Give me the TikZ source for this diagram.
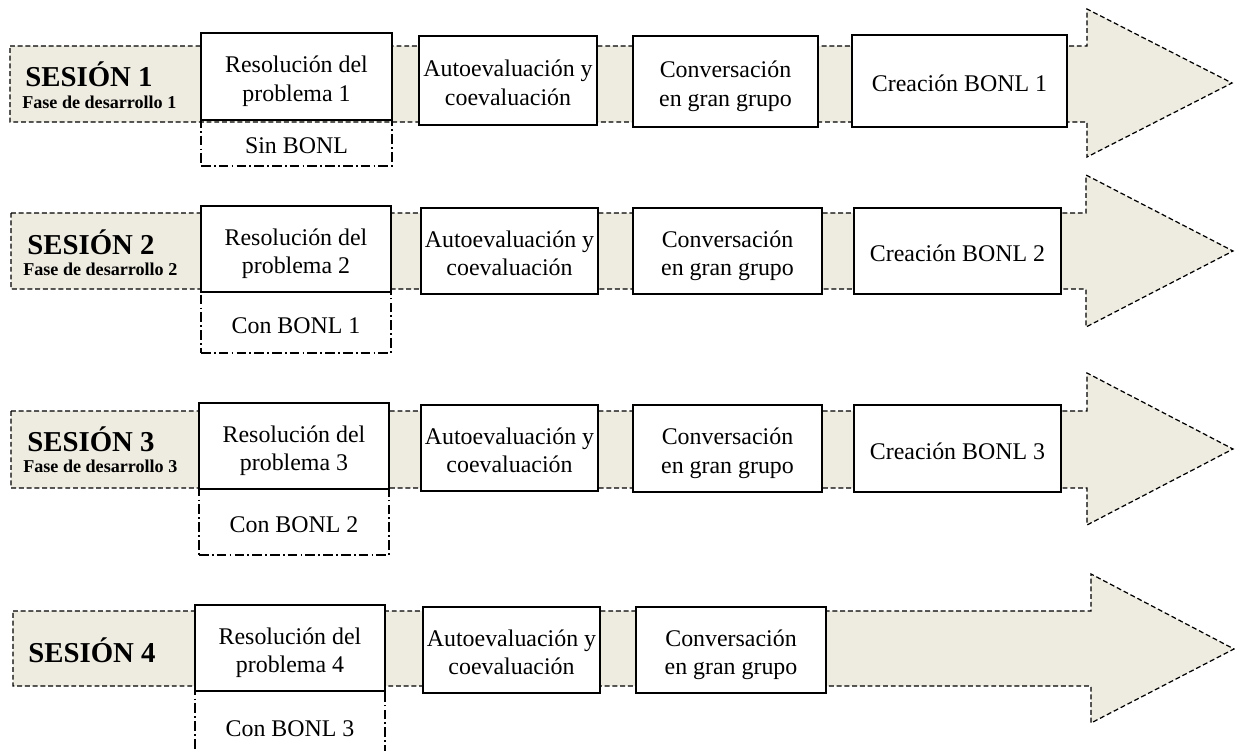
\documentclass[tikz,border=0pt]{standalone}
\usepackage{fontspec}
\setmainfont{Liberation Serif}
\usepackage{xcolor}
\definecolor{fondo}{HTML}{EEECE1}
% two lines, with fixed top and bottom struts
\newcommand{\dos}[2]{\rule{0pt}{15.2pt}#1\\#2\rule[-3.2pt]{0pt}{0pt}}

\begin{document}
\begin{tikzpicture}[x=0.02cm, y=-0.02cm,
    flecha/.style={fill=fondo, draw=black, line width=0.7pt, dash pattern=on 2.8pt off 1.6pt},
    caja/.style={draw=black, fill=white, line width=1.1pt, inner sep=0pt, align=center, font=\fontsize{13.6}{16}\selectfont},
    linea/.style={execute at begin node={\rule{0pt}{15.2pt}}, execute at end node={\rule[-3.2pt]{0pt}{0pt}}},
    bonl/.style={linea, draw=black, line width=0.8pt, inner sep=0pt, dash pattern=on 5.5pt off 1.8pt on 1pt off 1.8pt, font=\fontsize{13.6}{16}\selectfont},
    sesion/.style={anchor=west, inner sep=0pt, font=\bfseries\fontsize{16.4}{18}\selectfont},
    fase/.style={anchor=west, inner sep=0pt, font=\bfseries\fontsize{10.3}{12}\selectfont}]

\clip (0,0) rectangle (1235,751);

% sesion 1
\draw[flecha] (10,46) -- (1087,46) -- (1087,9) -- (1232,83) -- (1087,157) -- (1087,122) -- (10,122) -- cycle;
\node[sesion] (ses1) at (25,74) {SESIÓN 1};
\node[fase] (fase1) at (22,102) {Fase de desarrollo 1};
\node[bonl, minimum width=3.82cm, minimum height=0.92cm] (bonl1) at (296.5,143) {Sin BONL};
\node[caja, minimum width=3.82cm, minimum height=1.74cm] (res1) at (296.5,76.5) {\dos{Resolución del}{problema 1}};
\node[caja, minimum width=3.56cm, minimum height=1.78cm] (auto1) at (508,80.5) {\dos{Autoevaluación y}{coevaluación}};
\node[caja, minimum width=3.70cm, minimum height=1.82cm] (conv1) at (725.5,81.5) {\dos{Conversación}{en gran grupo}};
\node[caja, linea, minimum width=4.30cm, minimum height=1.84cm] (crea1) at (959.5,81) {Creación BONL 1};

% sesion 2
\draw[flecha] (11,213) -- (1086,213) -- (1086,175) -- (1233,251) -- (1086,327) -- (1086,289) -- (11,289) -- cycle;
\node[sesion] (ses2) at (27,242) {SESIÓN 2};
\node[fase] (fase2) at (23,269) {Fase de desarrollo 2};
\node[bonl, minimum width=3.80cm, minimum height=1.22cm] (bonl2) at (296,322.5) {Con BONL 1};
\node[caja, minimum width=3.80cm, minimum height=1.72cm] (res2) at (296,249) {\dos{Resolución del}{problema 2}};
\node[caja, minimum width=3.54cm, minimum height=1.72cm] (auto2) at (509.5,251) {\dos{Autoevaluación y}{coevaluación}};
\node[caja, minimum width=3.78cm, minimum height=1.72cm] (conv2) at (727.5,251) {\dos{Conversación}{en gran grupo}};
\node[caja, linea, minimum width=4.14cm, minimum height=1.72cm] (crea2) at (957.5,251) {Creación BONL 2};

% sesion 3
\draw[flecha] (11,411) -- (1087,411) -- (1087,373) -- (1233,449) -- (1087,525) -- (1087,488) -- (11,488) -- cycle;
\node[sesion] (ses3) at (27,439) {SESIÓN 3};
\node[fase] (fase3) at (23,466) {Fase de desarrollo 3};
\node[bonl, minimum width=3.80cm, minimum height=1.32cm] (bonl3) at (294,522) {Con BONL 2};
\node[caja, minimum width=3.80cm, minimum height=1.72cm] (res3) at (294,446) {\dos{Resolución del}{problema 3}};
\node[caja, minimum width=3.54cm, minimum height=1.72cm] (auto3) at (509.5,448) {\dos{Autoevaluación y}{coevaluación}};
\node[caja, minimum width=3.78cm, minimum height=1.74cm] (conv3) at (727.5,448.5) {\dos{Conversación}{en gran grupo}};
\node[caja, linea, minimum width=4.14cm, minimum height=1.74cm] (crea3) at (957.5,448.5) {Creación BONL 3};

% sesion 4
\draw[flecha] (13,611) -- (1091,611) -- (1091,574) -- (1234,649) -- (1091,723) -- (1091,686) -- (13,686) -- cycle;
\node[sesion] (ses4) at (28,650) {SESIÓN 4};
\node[bonl, minimum width=3.80cm, minimum height=1.38cm] (bonl4) at (290,725.5) {Con BONL 3};
\node[caja, minimum width=3.80cm, minimum height=1.72cm] (res4) at (290,648) {\dos{Resolución del}{problema 4}};
\node[caja, minimum width=3.54cm, minimum height=1.72cm] (auto4) at (511.5,650) {\dos{Autoevaluación y}{coevaluación}};
\node[caja, minimum width=3.80cm, minimum height=1.72cm] (conv4) at (731,650) {\dos{Conversación}{en gran grupo}};
\end{tikzpicture}
\end{document}
